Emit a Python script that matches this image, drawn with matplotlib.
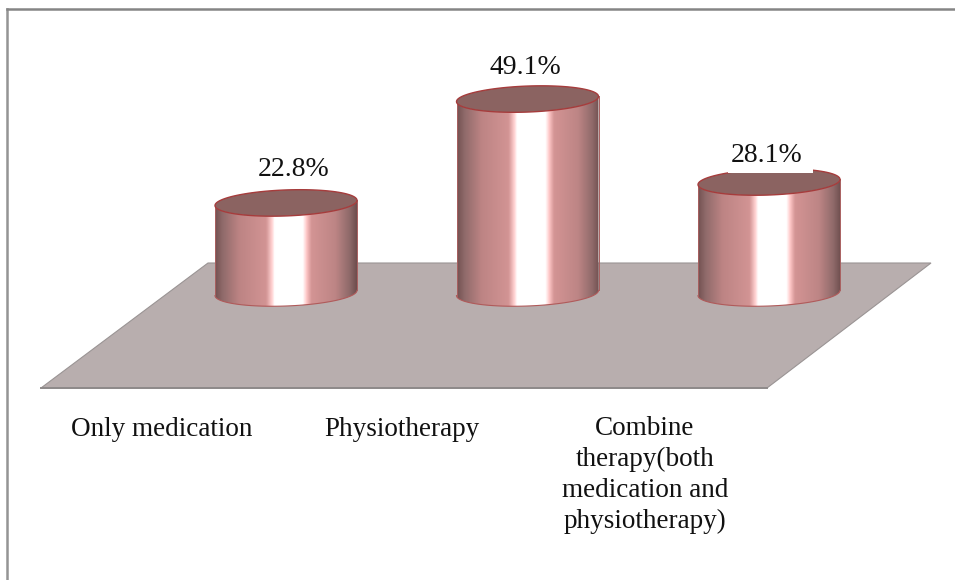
import numpy as np
import matplotlib
matplotlib.use('Agg')
import matplotlib.pyplot as plt
from matplotlib.colors import LinearSegmentedColormap
from matplotlib.patches import Polygon, PathPatch, Rectangle
from matplotlib.path import Path

categories = ['Only medication', 'Physiotherapy',
              'Combine\ntherapy(both\nmedication and\nphysiotherapy)']
values = [22.8, 49.1, 28.1]
value_labels = ['22.8%', '49.1%', '28.1%']

W, H = 955, 580
plt.rcParams['font.family'] = ['Liberation Serif', 'DejaVu Serif']

fig = plt.figure(figsize=(W / 100, H / 100), dpi=100)
ax = fig.add_axes([0, 0, 1, 1])

# one category = 241.5 px, one percent = 3.95 px
x0, xs = 286, 241.5
y0, ys = 293, 3.95
ax.axis('off')


def fx(px):
    return px / W


def fy(py):
    return 1 - py / H


# frame
fig.add_artist(plt.Line2D([fx(7), fx(7)], [fy(9), fy(580)], color='#949494', lw=1.8))
fig.add_artist(plt.Line2D([fx(7), fx(955)], [fy(9), fy(9)], color='#858585', lw=1.8))

# floor
floor = [(208, 263), (931, 263), (767, 388), (41, 388)]
ax.add_patch(Polygon([(fx(a), fy(b)) for a, b in floor], closed=True, transform=ax.transAxes,
                     facecolor='#b8aeae', edgecolor='#9a9494', lw=0.8, zorder=1))
ax.plot([fx(41), fx(767)], [fy(388), fy(388)], transform=ax.transAxes,
        color='#8e8a8a', lw=1.4, zorder=1)

cmap = LinearSegmentedColormap.from_list('cyl', [
    (0.0, '#745252'), (0.05, '#8f6a6a'), (0.17, '#bd8484'), (0.36, '#d29494'),
    (0.40, '#ffd0d0'), (0.42, '#ffffff'), (0.62, '#ffffff'), (0.645, '#ffc8c8'),
    (0.68, '#d39494'), (0.85, '#bd8585'), (0.95, '#8f6a6a'), (1.0, '#6f4f4f')])
grad = np.linspace(0, 1, 400).reshape(1, -1)

bar_w = 142 / xs
ry = 13 / ys
tilt = 2.6 / ys  # right side sits a bit higher than left


def half_ellipse(cx, cy, lower):
    t = np.linspace(np.pi, 2 * np.pi, 60) if lower else np.linspace(0, np.pi, 60)
    return cx + bar_w / 2 * np.cos(t), cy + ry * np.sin(t) + tilt * np.cos(t)


for i, v in enumerate(values):
    xb, yb = half_ellipse(i, 0, True)
    xt, yt = half_ellipse(i, v, True)
    outline = np.vstack([np.column_stack([xb, yb]), np.column_stack([xt[::-1], yt[::-1]]),
                         [[xb[0], yb[0]]]])
    body = PathPatch(Path(outline), facecolor='none', edgecolor='none', zorder=3)
    ax.add_patch(body)
    im = ax.imshow(grad, cmap=cmap, aspect='auto', zorder=3,
                   extent=(i - bar_w / 2, i + bar_w / 2, -40, 80))
    im.set_clip_path(body)
    ax.plot(xb, yb, color='#b05a5a', lw=0.8, zorder=4)
    ax.plot([xb[0], xt[0]], [yb[0], yt[0]], color='#a96060', lw=0.7, zorder=4)
    ax.plot([xb[-1], xt[-1]], [yb[-1], yt[-1]], color='#a96060', lw=0.7, zorder=4)
    # top cap
    xa, ya = half_ellipse(i, v, False)
    cap = np.vstack([np.column_stack([xt, yt]), np.column_stack([xa, ya])])
    ax.fill(cap[:, 0], cap[:, 1], facecolor='#8b6361', edgecolor='#a63c3c', lw=1.0, zorder=5)

ax.set_xlim(-x0 / xs, (W - x0) / xs)
ax.set_ylim((y0 - H) / ys, y0 / ys)

# value labels
label_px = [(294, 170), (525, 67), (767, 156)]
for (a, b), s in zip(label_px, value_labels):
    ax.text(fx(a), fy(b), s, transform=ax.transAxes, ha='center', va='center',
            fontsize=20, color='#111111', zorder=7)

# white label box cuts into the third cylinder top
ax.add_patch(Rectangle((fx(728), fy(173)), 85 / W, 30 / H, transform=ax.transAxes,
                       facecolor='white', edgecolor='none', zorder=6))

# category labels
cat_px = [(162, 430), (402, 430), (645, 475)]
for (a, b), s in zip(cat_px, categories):
    ax.text(fx(a), fy(b), s, transform=ax.transAxes, ha='center', va='center',
            fontsize=19.5, color='#111111', linespacing=1.3, zorder=7)

fig.savefig('out.png', dpi=100)
